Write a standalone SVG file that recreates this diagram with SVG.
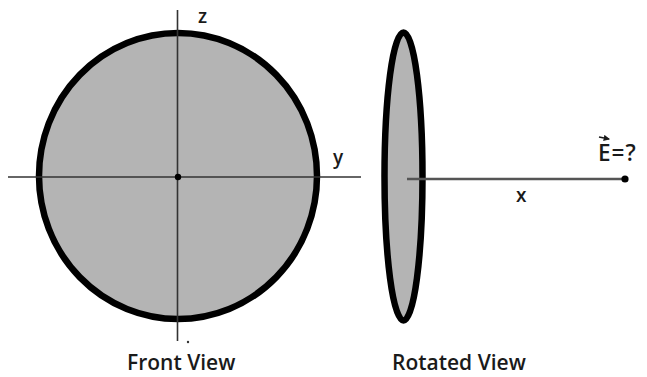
<svg xmlns="http://www.w3.org/2000/svg" width="647" height="377" viewBox="0 0 647 377">
<style>
.disk{fill:#b4b4b4;stroke:#000;stroke-width:6.5}
.axis{stroke:#333;stroke-width:1.6;fill:none}
.lbl{font-family:"Open Sans","Noto Sans",sans-serif;fill:#1a1a1a;font-weight:600}
.cap{font-family:"Open Sans","Noto Sans",sans-serif;fill:#1a1a1a;font-size:21px;font-weight:600}
</style>
<defs>
<marker id="ah" viewBox="0 0 6 6" refX="5" refY="3" markerWidth="4" markerHeight="4" orient="auto">
<path d="M0,0 L6,3 L0,6 z" fill="#1a1a1a"/>
</marker>
</defs>
<rect width="647" height="377" fill="#fff"/>
<g id="front-view">
<ellipse class="disk" cx="178" cy="176" rx="139" ry="143"/>
</g>
<g id="rotated-view">
<ellipse class="disk" cx="403.5" cy="176.5" rx="19" ry="144"/>
</g>
<g id="connectors">
<line class="axis" x1="8" y1="177" x2="361" y2="177"/>
<line class="axis" x1="177.5" y1="10" x2="177.5" y2="341"/>
<line x1="407" y1="179" x2="625" y2="179" stroke="#555" stroke-width="2.6"/>
</g>
<g id="points">
<circle cx="178" cy="177" r="3.2" fill="#000"/>
<circle cx="625" cy="179" r="3.6" fill="#000"/>
<circle cx="188" cy="342" r="1.2" fill="#333"/>
</g>
<g id="labels">
<text class="lbl" x="598" y="161" font-size="22.5" letter-spacing="1">E=?</text>
<line x1="599" y1="137" x2="609" y2="139" stroke="#1a1a1a" stroke-width="1.6" marker-end="url(#ah)"/>
<text class="lbl" x="198" y="23" font-size="19">z</text>
<text class="lbl" x="333" y="164" font-size="19">y</text>
<text class="lbl" x="516" y="202" font-size="19">x</text>
<text class="cap" x="127" y="370">Front View</text>
<text class="cap" x="392" y="370">Rotated View</text>
</g>
</svg>
